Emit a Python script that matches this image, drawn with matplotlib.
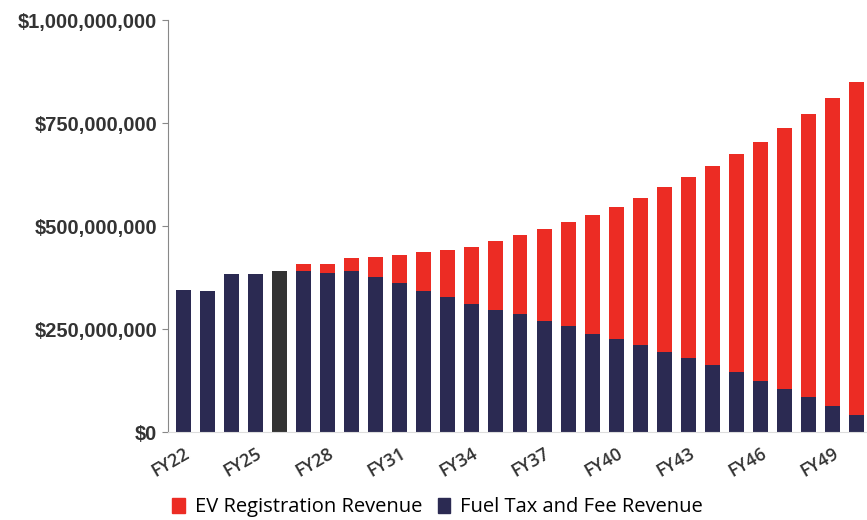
import matplotlib.pyplot as plt
from matplotlib.ticker import FuncFormatter
from matplotlib.patches import Patch

years = [f"FY{y}" for y in range(22, 51)]
fuel = [345, 343, 384, 384, 392, 392, 385, 392, 377, 362,
        343, 327, 310, 297, 286, 270, 257, 239, 227, 211,
        194, 181, 162, 145, 124, 105, 86, 64, 42]
total = [345, 343, 384, 384, 392, 407, 407, 423, 425, 431,
         437, 443, 449, 464, 479, 493, 510, 527, 547, 568,
         594, 620, 645, 675, 704, 737, 773, 810, 849]
ev = [t - f for t, f in zip(total, fuel)]

RED = "#ec2c24"
NAVY = "#2b2a52"
GRAY = "#333333"

fig = plt.figure(figsize=(8.67, 5.2), dpi=100)
ax = fig.add_axes([0.194, 0.169, 0.806, 0.7925])

x = list(range(len(years)))
fuel_colors = [GRAY if y == "FY26" else NAVY for y in years]
ax.bar(x, [f * 1e6 for f in fuel], width=0.62, color=fuel_colors)
ax.bar(x, [e * 1e6 for e in ev], width=0.62, bottom=[f * 1e6 for f in fuel], color=RED)

ax.set_ylim(0, 1e9)
ax.set_xlim(-0.62, 28.42)
ax.set_yticks([0, 2.5e8, 5e8, 7.5e8, 1e9])
ax.yaxis.set_major_formatter(FuncFormatter(lambda v, p: f"${v:,.0f}"))
for lab in ax.get_yticklabels():
    lab.set_fontfamily("Liberation Sans")
    lab.set_fontweight("bold")
    lab.set_fontsize(14.5)
    lab.set_color("#333333")

ax.set_xticks(x[::3])
ax.set_xticklabels(years[::3], rotation=30, ha="right", rotation_mode="anchor",
                   fontsize=13, fontfamily="Open Sans", fontweight="semibold",
                   color="#333333")
ax.tick_params(axis="x", length=0, pad=9)
ax.tick_params(axis="y", length=4, color="#888888", pad=4)

for s in ["top", "right"]:
    ax.spines[s].set_visible(False)
ax.spines["left"].set_color("#888888")
ax.spines["bottom"].set_color("#dddddd")

handles = [Patch(color=RED, label="EV Registration Revenue"),
           Patch(color=NAVY, label="Fuel Tax and Fee Revenue")]
fig.legend(handles=handles, loc="lower left", bbox_to_anchor=(0.178, -0.03), ncol=2,
           frameon=False, prop={"family": "Open Sans", "size": 14.5},
           handlelength=0.6, handleheight=0.8, handletextpad=0.5, columnspacing=0.8)

fig.savefig("out.png", dpi=100)
